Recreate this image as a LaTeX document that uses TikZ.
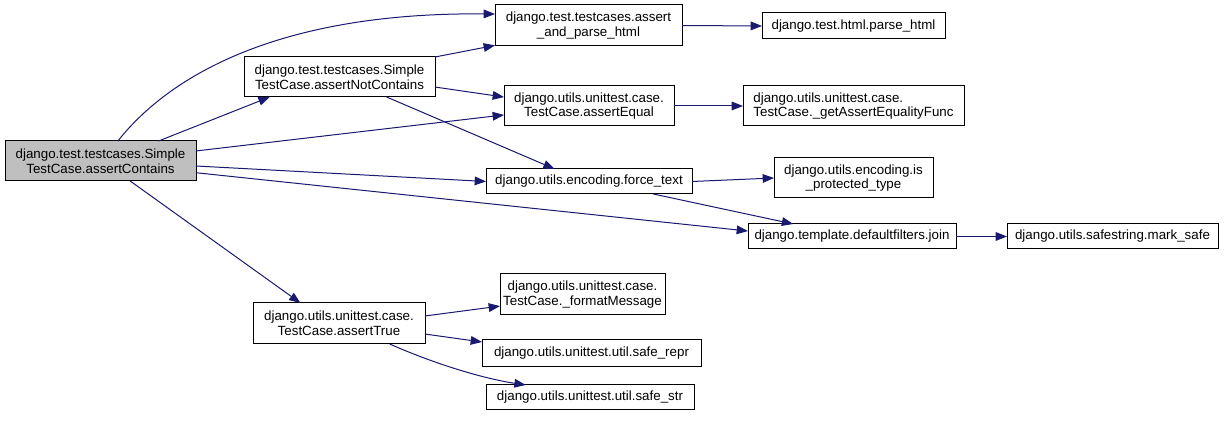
\documentclass[tikz,border=0pt]{standalone}
\usepackage{fontspec}
\setmainfont{Liberation Sans}
\usetikzlibrary{arrows.meta,calc}
\definecolor{edgecol}{HTML}{191970}
\begin{document}
\begin{tikzpicture}[x=0.75pt,y=-0.75pt,
  box/.style={draw=black, line width=0.75pt, fill=white, inner sep=0pt, outer sep=0pt, align=center, font=\fontsize{10}{11}\selectfont},
  sz/.style 2 args={minimum width=#1*0.75pt, minimum height=#2*0.75pt},
  e/.style={draw=edgecol, line width=0.75pt, -{Triangle[length=8.5pt,width=6.5pt]}}]
\useasboundingbox (0,0) rectangle (1229,423);

\node[box, sz={191}{40}, fill={rgb,255:red,191;green,191;blue,191}] (main) at (100.5,161) {django.test.testcases.Simple\\TestCase.assertContains};
\node[box, sz={191}{40}] (notc) at (339.5,77) {django.test.testcases.Simple\\TestCase.assertNotContains};
\node[box, sz={187}{41}] (aph) at (588.5,25.5) {django.test.testcases.assert\\\_and\_parse\_html};
\node[box, sz={183}{26}] (ph) at (853.5,26) {django.test.html.parse\_html};
\node[box, sz={170}{40}] (aeq) at (589,106) {django.utils.unittest.case.\\TestCase.assertEqual};
\node[box, sz={221}{40}, align=left] (gaef) at (853.5,106) {django.utils.unittest.case.\\TestCase.\_getAssertEqualityFunc};
\node[box, sz={206}{25}] (ft) at (589,181.5) {django.utils.encoding.force\_text};
\node[box, sz={159}{40}] (ipt) at (853.5,178) {django.utils.encoding.is\\\_protected\_type};
\node[box, sz={208}{25}] (join) at (852,236.5) {django.template.defaultfilters.join};
\node[box, sz={211}{25}] (ms) at (1112.5,236.5) {django.utils.safestring.mark\_safe};
\node[box, sz={172}{41}] (at) at (339,323.5) {django.utils.unittest.case.\\TestCase.assertTrue};
\node[box, sz={165}{41}] (fm) at (582.5,294.5) {django.utils.unittest.case.\\TestCase.\_formatMessage};
\node[box, sz={219}{27}] (sr) at (591.5,353.5) {django.utils.unittest.util.safe\_repr};
\node[box, sz={208}{25}] (ss) at (590,397.5) {django.utils.unittest.util.safe\_str};

\draw[e] (main.49) .. controls (170,75) and (280,12) .. (aph.173.6);
\draw[e] (main.19) -- (notc.196);
\draw[e] (main.6.6) -- (aeq.186);
\draw[e] (main.-3) -- (ft.west);
\draw[e] (main.-7.2) -- (join.177);
\draw[e] (main.-34) -- (at.152.3);
\draw[e] (notc.north east) -- (aph.-168.8);
\draw[e] (notc.-6.6) -- (aeq.174);
\draw[e] (notc.-23.7) -- (ft.160.9);
\draw[e] (aph.east) -- (ph.west);
\draw[e] (aeq.east) -- (gaef.west);
\draw[e] (ft.east) -- (ipt.west);
\draw[e] (ft.-11.6) -- (join.168.6);
\draw[e] (join.east) -- (ms.west);
\draw[e] (at.5.6) -- (fm.188.6);
\draw[e] (at.-7.6) -- (sr.174.5);
\draw[e] (at.-22.7) .. controls (430,362) and (480,378) .. (ss.169.9);
\end{tikzpicture}
\end{document}
